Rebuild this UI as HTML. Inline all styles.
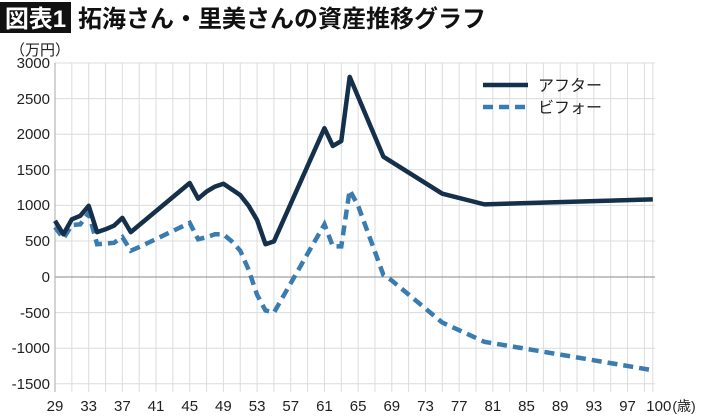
<!DOCTYPE html>
<html><head><meta charset="utf-8"><style>
body{margin:0;background:#fff;}
svg{display:block;font-family:"Liberation Sans","Noto Sans CJK JP",sans-serif;}
</style></head><body>
<svg width="710" height="418" viewBox="0 0 710 418">
<rect x="0" y="2" width="71" height="31" fill="#111"/>
<text x="35.5" y="27" fill="#fff" font-size="24" font-weight="bold" text-anchor="middle">図表1</text>
<text x="78" y="27" fill="#111" font-size="24" font-weight="bold">拓海さん・里美さんの資産推移グラフ</text>
<text x="10" y="55" font-size="15" fill="#222">（万円）</text>
<g stroke="#dcdcdc" stroke-width="1">
<line x1="55" x2="655" y1="63" y2="63"/><line x1="55" x2="655" y1="98.6" y2="98.6"/>
<line x1="55" x2="655" y1="134.2" y2="134.2"/><line x1="55" x2="655" y1="169.8" y2="169.8"/>
<line x1="55" x2="655" y1="205.4" y2="205.4"/><line x1="55" x2="655" y1="241" y2="241"/>
<line x1="55" x2="655" y1="312.6" y2="312.6"/><line x1="55" x2="655" y1="348.2" y2="348.2"/>
<line x1="55" x2="655" y1="383.8" y2="383.8"/>
</g>
<g id="vg" stroke="#dcdcdc" stroke-width="1"></g>
<line x1="55" x2="655" y1="277" y2="277" stroke="#888" stroke-width="1"/>
<line x1="55" x2="55" y1="63" y2="392" stroke="#aaa" stroke-width="1"/>
<g font-size="15" fill="#222" text-anchor="end">
<text x="50" y="68">3000</text><text x="50" y="104">2500</text><text x="50" y="139">2000</text>
<text x="50" y="175">1500</text><text x="50" y="210">1000</text><text x="50" y="246">500</text>
<text x="50" y="282">0</text><text x="50" y="318">-500</text><text x="50" y="353">-1000</text>
<text x="50" y="389">-1500</text>
</g>
<g id="xl" font-size="15" fill="#222" text-anchor="middle"></g>
<text x="684" y="411" font-size="14" fill="#222" text-anchor="middle">(歳)</text>
<g transform="translate(55,277) scale(8.42,-0.0712) translate(-29,0)" fill="none">
<polyline vector-effect="non-scaling-stroke" stroke="#3a7bb0" stroke-width="4.5" stroke-dasharray="10,6"
points="29,700 30,540 31,730 32,740 33,900 34,460 35,470 36,480 37,560 38,370 39,420 45,760 46,530 47,560 48,600 49,600 50,500 51,370 52,100 53,-250 54,-470 55,-500 61,740 62,430 63,430 64,1220 65,1000 68,30 69,-50 75,-640 80,-910 100,-1310"/>
<polyline vector-effect="non-scaling-stroke" stroke="#15304a" stroke-width="4.5" stroke-linejoin="round"
points="29,790 30,600 31,810 32,860 33,1000 34,630 35,670 36,720 37,830 38,630 45,1320 46,1100 47,1200 48,1270 49,1310 50,1230 51,1150 52,1000 53,800 54,460 55,500 61,2090 62,1840 63,1910 64,2810 68,1690 75,1170 80,1020 100,1090"/>
</g>
<line x1="483" x2="528" y1="85" y2="85" stroke="#15304a" stroke-width="4.5"/>
<line x1="483" x2="528" y1="107" y2="107" stroke="#3a7bb0" stroke-width="4.5" stroke-dasharray="10,6"/>
<text x="538" y="91" font-size="16" fill="#222">アフター</text>
<text x="538" y="113" font-size="16" fill="#222">ビフォー</text>
<script>
var vg=document.getElementById('vg'),xl=document.getElementById('xl'),ns='http://www.w3.org/2000/svg';
for(var a=31;a<=100;a+=(a==99?1:2)){var x=55+(a-29)*8.42;var l=document.createElementNS(ns,'line');
l.setAttribute('x1',x);l.setAttribute('x2',x);l.setAttribute('y1',63);l.setAttribute('y2',392);vg.appendChild(l);}
var labs=[29,33,37,41,45,49,53,57,61,65,69,73,77,81,85,89,93,97,100];
labs.forEach(function(a){var x=55+(a-29)*8.42+(a==100?6:0);var t=document.createElementNS(ns,'text');
t.setAttribute('x',x);t.setAttribute('y',411);t.textContent=a;xl.appendChild(t);});
</script>
</svg>
</body></html>
